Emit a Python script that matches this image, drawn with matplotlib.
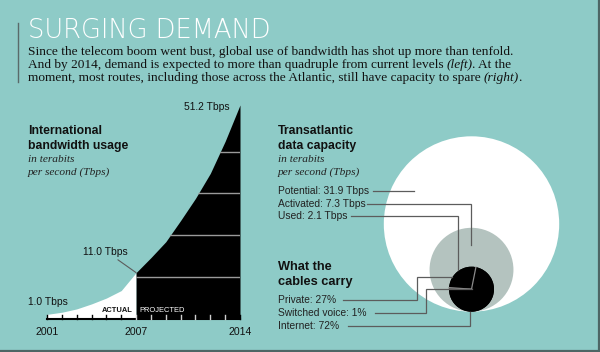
import matplotlib
matplotlib.use("Agg")
import matplotlib.pyplot as plt
from matplotlib.patches import Circle, Wedge
import numpy as np

# ---------------- data ----------------
years = [2001, 2002, 2003, 2004, 2005, 2006, 2007, 2008, 2009, 2010, 2011, 2012, 2013, 2014]
usage_tbps = [1.0, 1.5, 2.3, 3.5, 4.9, 6.7, 11.0, 14.6, 18.4, 23.5, 28.8, 34.8, 42.5, 51.2]
split_year = 2007
grid_levels = [10, 20, 30, 40]

capacity_labels = ["Potential: 31.9 Tbps", "Activated: 7.3 Tbps", "Used: 2.1 Tbps"]
capacity_values = [31.9, 7.3, 2.1]

traffic_labels = ["Private: 27%", "Switched voice: 1%", "Internet: 72%"]
traffic_shares = [27, 1, 72]

title = "SURGING DEMAND"
# each line: list of (segment, italic?)
body = [
    [("Since the telecom boom went bust, global use of bandwidth has shot up more than tenfold.", False)],
    [("And by 2014, demand is expected to more than quadruple from current levels", False),
     (" (left)", True), (". At the", False)],
    [("moment, most routes, including those across the Atlantic, still have capacity to spare", False),
     (" (right)", True), (".", False)],
]

# ---------------- style ----------------
BG = "#8ecbc7"
LEAD = "#5c5c5c"
SANS = "Liberation Sans"
SERIF = "Liberation Serif"

W, H = 600, 352
fig = plt.figure(figsize=(6, 3.52), dpi=100, facecolor=BG)
ax = fig.add_axes([0, 0, 1, 1])
ax.set_xlim(0, W)
ax.set_ylim(0, H)
ax.axis("off")
ax.patch.set_alpha(0)
renderer = fig.canvas.get_renderer()

def Y(y):
    return H - y

# frame
ax.plot([W - 0.8, W - 0.8], [0, H], color="#4d6665", lw=1.6)
ax.plot([0, W], [0.8, 0.8], color="#4d6665", lw=1.6)

# title block
ax.plot([18, 18], [Y(23), Y(82)], color="#5a6a6a", lw=1)
ax.text(28, Y(38.3), title, color="white", fontsize=18.5, family="DejaVu Sans",
        fontweight="light", va="baseline", ha="left")
for i, segs in enumerate(body):
    x = 28
    for seg, it in segs:
        if seg.startswith(" "):
            x += 2.8
            seg = seg[1:]
        t = ax.text(x, Y(55.5 + 12.6 * i), seg, color="#111", fontsize=9.6, family=SERIF,
                    style="italic" if it else "normal", va="baseline", ha="left")
        bb = t.get_window_extent(renderer)
        x = bb.x1 + (-1.2 if it else 0.2)

# ---------------- left chart ----------------
x0, x1 = 47, 240
yb, yt = 318.5, 105
ax2 = fig.add_axes([x0 / W, (H - yb) / H, (x1 - x0) / W, (yb - yt) / H])
ax2.set_xlim(years[0], years[-1])
ax2.set_ylim(0, usage_tbps[-1])
ax2.axis("off")
ax2.patch.set_alpha(0)

si = years.index(split_year)
ax2.fill_between(years[:si + 1], usage_tbps[:si + 1], 0, color="white", lw=0)
proj = ax2.fill_between(years[si:], usage_tbps[si:], 0, color="black", lw=0)
ppath = proj.get_paths()[0]
for g in grid_levels:
    ln, = ax2.plot([split_year, years[-1]], [g, g], color="#9a9a9a", lw=1)
    ln.set_clip_path(ppath, proj.get_transform())

# baseline + ticks
ax2.plot([years[0], years[-1]], [0, 0], color="black", lw=1.5, clip_on=False)
for yr in years:
    col = "black" if yr < split_year else "#cfcfcf"
    if yr == years[-1]:
        col = "black"
    ax2.plot([yr, yr], [0, 0.8], color=col, lw=1, clip_on=False)

for yr in [years[0], split_year, years[-1]]:
    ax2.text(yr, -3.25, str(yr), ha="center", va="center", fontsize=7.6, family=SANS, color="#111")

ax2.text(split_year - 0.2, 1.9, "ACTUAL", ha="right", va="center", fontsize=5.4,
         family=SANS, fontweight="bold", color="#111")
ax2.text(split_year + 0.25, 1.9, "PROJECTED", ha="left", va="center", fontsize=5.4,
         family=SANS, color="white")

ax.text(28, Y(302), "%.1f Tbps" % usage_tbps[0], ha="left", va="center", fontsize=7.4, family=SANS, color="#111")
ax.text(230, Y(107), "%.1f Tbps" % usage_tbps[-1], ha="right", va="center", fontsize=7.4, family=SANS, color="#111")
ax2.annotate("%.1f Tbps" % usage_tbps[si], xy=(split_year, usage_tbps[si]), xytext=(105, Y(252)),
             textcoords="figure pixels", ha="center", va="center", fontsize=7.4, family=SANS,
             color="#111",
             arrowprops=dict(arrowstyle="-", color=LEAD, lw=0.8, shrinkA=0, shrinkB=0, relpos=(0.7, 0.0)))

ax.text(28, Y(131.5), "International", ha="left", va="center", fontsize=8.8, family=SANS,
        fontweight="bold", color="#111")
ax.text(28, Y(146.5), "bandwidth usage", ha="left", va="center", fontsize=8.8, family=SANS,
        fontweight="bold", color="#111")
ax.text(28, Y(160), "in terabits", ha="left", va="center", fontsize=8.2, family=SERIF,
        style="italic", color="#222")
ax.text(28, Y(172), "per second (Tbps)", ha="left", va="center", fontsize=8.2, family=SERIF,
        style="italic", color="#222")

# ---------------- right chart ----------------
cx = 471.5
bottom = Y(311.7)
k = 87.7 / np.sqrt(max(capacity_values))
circle_cols = ["white", "#b4c3bf", "black"]
radii = []
for v, c in zip(capacity_values, circle_cols):
    r = k * np.sqrt(v)
    radii.append(r)
    ax.add_patch(Circle((cx, bottom + r), r, facecolor=c, edgecolor="none", zorder=2))

pc = (cx, bottom + radii[-1])
pr = radii[-1]
start = 78.7
ang = start
bounds = [ang]
for s in traffic_shares:
    a2 = ang + s / 100 * 360
    ax.add_patch(Wedge(pc, pr, ang, a2, facecolor="black", edgecolor="none", zorder=3))
    ang = a2
    bounds.append(ang)
for b in bounds[:-1]:
    t = np.deg2rad(b)
    ax.plot([pc[0], pc[0] + pr * np.cos(t)], [pc[1], pc[1] + pr * np.sin(t)],
            color="#8a8a8a", lw=0.9, zorder=4)

tx = 278
ax.text(tx, Y(131.5), "Transatlantic", ha="left", va="center", fontsize=8.8, family=SANS,
        fontweight="bold", color="#111")
ax.text(tx, Y(146.5), "data capacity", ha="left", va="center", fontsize=8.8, family=SANS,
        fontweight="bold", color="#111")
ax.text(tx, Y(160), "in terabits", ha="left", va="center", fontsize=8.2, family=SERIF,
        style="italic", color="#222")
ax.text(tx, Y(172), "per second (Tbps)", ha="left", va="center", fontsize=8.2, family=SERIF,
        style="italic", color="#222")

cap_y = [190.7, 204, 216]
for lab, yy in zip(capacity_labels, cap_y):
    ax.text(tx, Y(yy), lab, ha="left", va="center", fontsize=7.4, family=SANS, color="#222", zorder=5)

ax.text(tx, Y(266.7), "What the", ha="left", va="center", fontsize=9.2, family=SANS,
        fontweight="bold", color="#111")
ax.text(tx, Y(281.7), "cables carry", ha="left", va="center", fontsize=9.2, family=SANS,
        fontweight="bold", color="#111")
tr_y = [300, 312.7, 326]
for lab, yy in zip(traffic_labels, tr_y):
    ax.text(tx, Y(yy), lab, ha="left", va="center", fontsize=7.4, family=SANS, color="#222", zorder=5)

leaders = [
    [(373, 190.7), (414, 190.7)],
    [(367, 204), (471, 204), (471, 245)],
    [(351, 216), (458, 216), (458, 270)],
    [(343, 300), (417, 300), (417, 277), (452, 277)],
    [(375, 312.7), (426, 312.7), (426, 289.3), (471.5, 289.3)],
    [(348, 326), (470, 326), (470, 311.7)],
]
for pts in leaders:
    xs = [p[0] for p in pts]
    ys = [Y(p[1]) for p in pts]
    ax.plot(xs, ys, color=LEAD, lw=0.9, zorder=4, solid_joinstyle="miter")

fig.savefig("out.png", dpi=100, facecolor=BG)
